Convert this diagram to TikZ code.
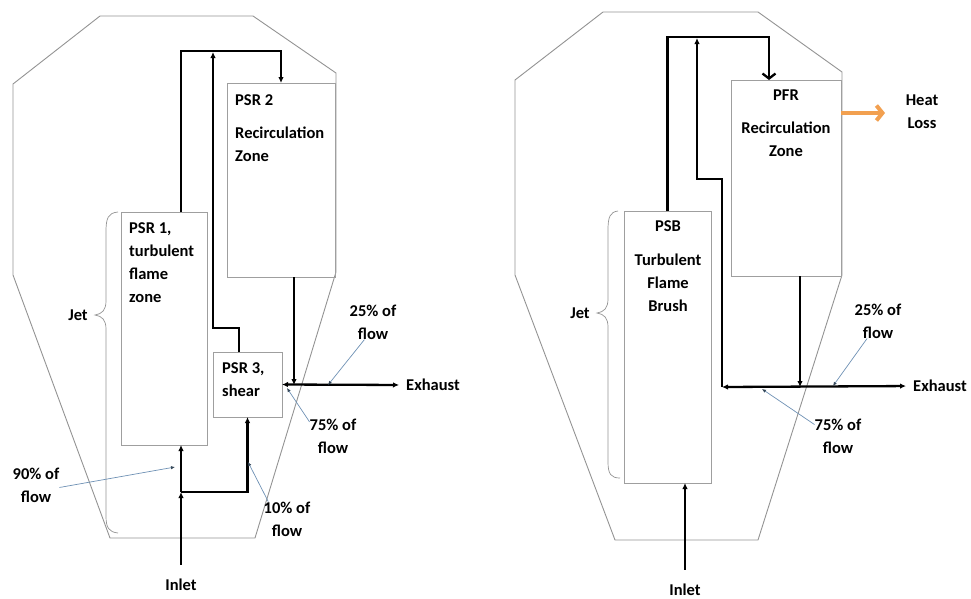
\documentclass[tikz,border=0pt]{standalone}
\usepackage{fontspec}
\setmainfont{Carlito}
\usetikzlibrary{arrows.meta, positioning}
\definecolor{notebl}{RGB}{110,145,180}
\definecolor{heatorange}{RGB}{242,160,80}
\tikzset{
  wall/.style={draw=gray!85, line width=0.9pt},
  zone/.style={draw=gray!75, line width=0.9pt, inner sep=0pt, outer sep=0pt},
  flow/.style={line width=2.3pt, -{Latex[length=6pt,width=5.5pt]}},
  note/.style={draw=notebl, line width=0.7pt, -{Latex[length=4pt,width=3.5pt,color=notebl!50!black]}},
  txt/.style={font=\fontsize{16.5}{23}\selectfont\bfseries, inner sep=0pt},
  heat/.style={draw=heatorange, line width=4pt, -{Straight Barb[length=6pt,width=15pt]}}
}

\begin{document}
\begin{tikzpicture}[x=1pt, y=-1pt]
  \useasboundingbox (0,0) rectangle (971,598);

  % ---------- left: three PSR model ----------
  % Combustor wall
  \draw[wall] (100,16) -- (253,16) -- (336,73) -- (336,272) -- (255,538)
    -- (110,538) -- (13,275) -- (13,84) -- cycle;
  % Reactors
  \node[zone, minimum width=108pt, minimum height=194pt] (psr2) at (281,180) {};
  \node[zone, minimum width=86pt, minimum height=233pt] (psr1) at (164,328.5) {};
  \node[zone, minimum width=69pt, minimum height=65pt] (psr3) at (247.5,384.5) {};
  \node[txt, anchor=north west, align=left] (psr2t) at (235,94) {PSR 2\\[10pt]Recirculation\\Zone};
  \node[txt, anchor=north west, align=left] (psr1t) at (129,222) {PSR 1,\\turbulent\\flame\\zone};
  \node[txt, anchor=north west, align=left] (psr3t) at (222,362) {PSR 3,\\shear};
  % Jet brace
  \draw[wall, line width=0.7pt] (118,212) .. controls (108,213) and (106,218) .. (106,232) -- (106,301)
    .. controls (106,310) and (102,314) .. (95,315) .. controls (102,316) and (106,320) .. (106,329)
    -- (106,516) .. controls (106,528) and (109,532) .. (118,533);
  \node[txt] (jet1) at (78,315) {Jet};
  % Flows
  \coordinate (up1) at (181,51);
  \coordinate (ret1) at (213,52);
  \coordinate (j1) at (294,385);
  \coordinate (split1) at (181,492);
  \node[txt] (exh1) at (433,385) {Exhaust};
  \node[txt] (inlet1) at (181,585) {Inlet};
  \draw[flow] (psr1.north -| up1) -- (up1) -| (psr2.north);
  \draw[flow] ([xshift=-8.5pt]psr3.north) -- ++(0,-24) -| (ret1);
  \draw[flow] (psr2.south -| j1) -- (j1);
  \draw[flow, {Latex[length=6pt,width=5.5pt]}-{Latex[length=6pt,width=5.5pt]}] (psr3.east) -- (exh1.west) [shorten >=7pt];
  \draw[flow, shorten <=14pt] (inlet1.north) -- (split1);
  \draw[flow] (split1) -- (split1 |- psr1.south);
  \draw[flow] (split1) -| (psr3.south);
  % Flow split labels
  \node[txt, align=center] (l25) at (373,322) {25\% of\\flow};
  \node[txt, align=center] (l75) at (333,436) {75\% of\\flow};
  \node[txt, align=center] (l90) at (36,485) {90\% of\\flow};
  \node[txt, align=center] (l10) at (287,519) {10\% of\\flow};
  \coordinate (p25) at (328,385);
  \coordinate (p75) at (287,388);
  \coordinate (p90) at (175,467);
  \coordinate (p10) at (248,462);
  \draw[note] (l25.244) -- (p25);
  \draw[note] (l75.149) -- (p75);
  \draw[note] (l90.354) -- (p90);
  \draw[note] (l10.137) -- (p10);

  % ---------- right: PSB-PFR model ----------
  % Combustor wall
  \draw[wall] (603,12) -- (758,12) -- (842,72) -- (842,275) -- (758,540)
    -- (615,540) -- (515,275) -- (515,80) -- cycle;
  % Reactors
  \node[zone, minimum width=110pt, minimum height=196pt] (pfr) at (786,178) {};
  \node[zone, minimum width=87pt, minimum height=272pt] (psb) at (667.5,347) {};
  \node[txt, anchor=north, align=center] (pfrt) at (786,90) {PFR\\[10pt]Recirculation\\Zone};
  \node[txt, anchor=north, align=center] (psbt) at (668,220) {PSB\\[11pt]Turbulent\\Flame\\Brush};
  % Jet brace
  \draw[wall, line width=0.7pt] (618,211) .. controls (610,212) and (608,217) .. (608,230) -- (608,299)
    .. controls (608,308) and (604,312) .. (597,313) .. controls (604,314) and (608,318) .. (608,327)
    -- (608,462) .. controls (608,474) and (611,478) .. (620,478);
  \node[txt] (jet2) at (580,313) {Jet};
  % Flows
  \coordinate (up2) at (769,37);
  \coordinate (ret2) at (697,38);
  \coordinate (c2) at (722,387);
  \coordinate (j2) at (800,387);
  \coordinate (heatpt) at (885,113);
  \node[txt] (exh2) at (940,386) {Exhaust};
  \node[txt] (inlet2) at (685,590) {Inlet};
  \node[txt, align=center] (heat) at (922,112) {Heat\\Loss};
  \draw[line width=2.3pt, -{Straight Barb[length=5pt,width=13pt]}] (psb.north) |- (up2) -- (up2 |- pfr.north);
  \draw[flow] (c2) -- (722,179) -| (ret2);
  \draw[flow] (pfr.south -| j2) -- (j2);
  \draw[flow, {Latex[length=6pt,width=5.5pt]}-{Latex[length=6pt,width=5.5pt]}] (c2) -- (exh2.west) [shorten >=7pt];
  \draw[flow, shorten <=14pt] (inlet2.north) -- (inlet2.north |- psb.south);
  \draw[heat] (pfr.east |- heatpt) -- (heatpt);
  % Flow split labels
  \node[txt, align=center] (r25) at (878,321) {25\% of\\flow};
  \node[txt, align=center] (r75) at (838,436) {75\% of\\flow};
  \coordinate (q25) at (833,386);
  \coordinate (q75) at (762,389);
  \draw[note] (r25.238) -- (q25);
  \draw[note] (r75.154) -- (q75);
\end{tikzpicture}
\end{document}
